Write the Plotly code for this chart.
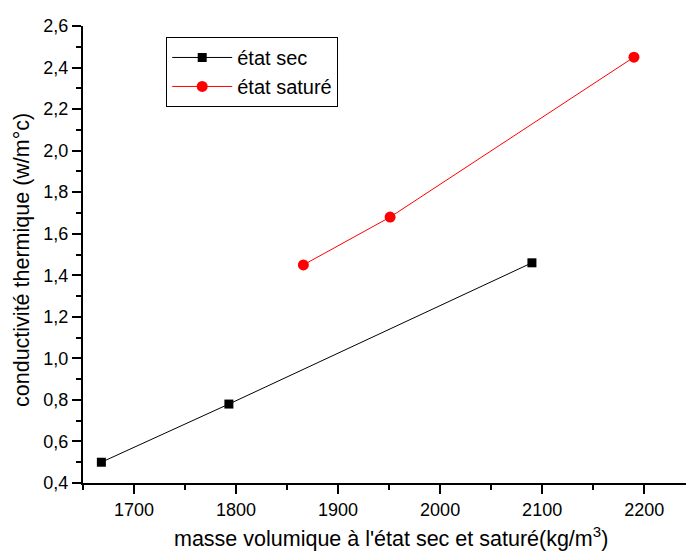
import plotly.graph_objects as go

# Data
x_sec = [1668, 1793, 2090]
y_sec = [0.50, 0.78, 1.46]
x_sat = [1866, 1951, 2190]
y_sat = [1.45, 1.68, 2.45]

x_ticks = [1700, 1800, 1900, 2000, 2100, 2200]
y_ticks = [0.4, 0.6, 0.8, 1.0, 1.2, 1.4, 1.6, 1.8, 2.0, 2.2, 2.4, 2.6]

x_title = "masse volumique à l'état sec et saturé(kg/m<sup>3</sup>)"
y_title = "conductivité thermique (w/m°c)"

FONT = "Liberation Sans, Arial, sans-serif"

fig = go.Figure()
fig.add_trace(go.Scatter(
    x=x_sec, y=y_sec, mode="lines+markers", name="état sec",
    line=dict(color="black", width=1),
    marker=dict(symbol="square", size=9, color="black"),
))
fig.add_trace(go.Scatter(
    x=x_sat, y=y_sat, mode="lines+markers", name="état saturé",
    line=dict(color="#ff0000", width=1),
    marker=dict(symbol="circle", size=11, color="#ff0000"),
))

fig.update_layout(
    width=687, height=552,
    margin=dict(l=83, r=1, t=26, b=69),
    plot_bgcolor="white", paper_bgcolor="white",
    separators=", ",
    font=dict(family=FONT, color="black", size=17),
    showlegend=True,
    legend=dict(
        x=0.138, y=0.976, xanchor="left", yanchor="top",
        bordercolor="black", borderwidth=1, bgcolor="white",
        font=dict(family=FONT, size=20, color="black"),
        itemwidth=60,
        tracegroupgap=0,
    ),
    annotations=[
        dict(text=x_title, xref="paper", yref="paper", x=0.5108, y=-0.118,
             xanchor="center", yanchor="middle", showarrow=False,
             font=dict(family=FONT, size=21.5, color="black")),
        dict(text=y_title, xref="paper", yref="paper", x=-0.1012, y=0.488,
             xanchor="center", yanchor="middle", textangle=-90, showarrow=False,
             font=dict(family=FONT, size=21.5, color="black")),
    ],
)
fig.update_xaxes(
    range=[1650, 2241],
    tickvals=x_ticks, ticktext=[str(v) for v in x_ticks],
    showgrid=False, zeroline=False,
    showline=True, linecolor="black", linewidth=2,
    ticks="outside", ticklen=9, tickwidth=1.5, tickcolor="black",
    minor=dict(ticks="outside", dtick=50, tick0=1650, ticklen=5, tickwidth=1.5, tickcolor="black"),
    tickfont=dict(size=18),
)
fig.update_yaxes(
    range=[0.4, 2.6],
    tickvals=y_ticks, ticktext=[f"{v:.1f}".replace(".", ",") for v in y_ticks],
    showgrid=False, zeroline=False,
    showline=True, linecolor="black", linewidth=2,
    ticks="outside", ticklen=9, tickwidth=1.5, tickcolor="black",
    minor=dict(ticks="outside", dtick=0.1, tick0=0.4, ticklen=5, tickwidth=1.5, tickcolor="black"),
    tickfont=dict(size=18),
)

fig.write_html("out.html", config={"displayModeBar": False},
               post_script="document.body.style.margin='0';document.body.style.overflow='hidden';")
